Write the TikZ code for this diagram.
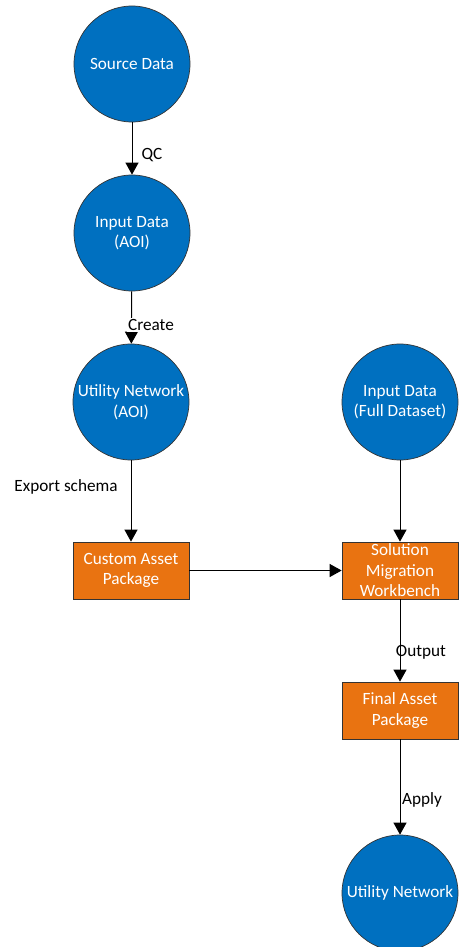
\documentclass[tikz,border=0pt]{standalone}
\usepackage{fontspec}
\setmainfont{Carlito}
\usetikzlibrary{arrows.meta}
\definecolor{nodeblue}{HTML}{0070C0}
\definecolor{nodeorange}{HTML}{E97311}
\begin{document}
\begin{tikzpicture}[x=1pt,y=-1pt,
  every node/.style={font=\fontsize{17.2}{20.5}\selectfont},
  circ/.style={circle,draw=black!80,line width=0.7pt,fill=nodeblue,text=white,minimum size=116pt,inner sep=0pt,align=center},
  box/.style={rectangle,draw=black!80,line width=0.7pt,fill=nodeorange,text=white,minimum width=116pt,minimum height=57pt,inner sep=0pt,align=center},
  conn/.style={draw=black,line width=1pt,-{Triangle[length=12pt,width=13pt]}},
  lbl/.style={text=black,inner sep=1pt}]
\clip (0,0) rectangle (462,947);
\useasboundingbox (0,0) rectangle (462,947);
\node[circ] (src) at (132,64) {Source Data};
\node[circ] (inaoi) at (132,233) {Input Data\\(AOI)};
\node[circ] (unaoi) at (131,402) {Utility Network\\(AOI)};
\node[circ] (infull) at (400,402) {Input Data\\(Full Dataset)};
\node[box] (cap) at (131,570.5) {Custom Asset\\Package};
\node[box] (smw) at (400,570.5) {Solution\\Migration\\Workbench};
\node[box] (fap) at (400,710.5) {Final Asset\\Package};
\node[circ] (un) at (400,893) {Utility Network};
\draw[conn] (src) -- (inaoi);
\draw[conn] (inaoi) -- (unaoi);
\draw[conn] (unaoi) -- (cap);
\draw[conn] (infull) -- (smw);
\draw[conn] (cap) -- (smw);
\draw[conn] (smw) -- (fap);
\draw[conn] (fap) -- (un);
\node[lbl] (qc) at (152,155) {QC};
\node[lbl,fill=white] (create) at (151,325) {Create};
\node[lbl] (exp) at (66,487) {Export schema};
\node[lbl] (out) at (421,652) {Output};
\node[lbl] (apply) at (422,800) {Apply};
\end{tikzpicture}
\end{document}
